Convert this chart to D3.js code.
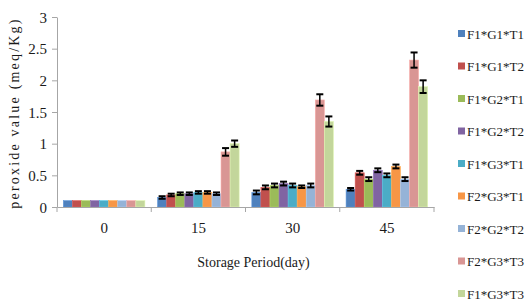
<!DOCTYPE html>
<html>
<head>
<meta charset="utf-8">
<script src="https://cdn.jsdelivr.net/npm/d3@7"></script>
<style>
  body { margin: 0; background: #fff; }
  text { font-family: "Liberation Serif", "Times New Roman", serif; fill: #1a1a1a; }
</style>
</head>
<body>
<div id="chart"></div>
<script>
var days = ["0", "15", "30", "45"]
var series = ["F1*G1*T1", "F1*G1*T2", "F1*G2*T1", "F1*G2*T2", "F1*G3*T1", "F2*G3*T1", "F2*G2*T2", "F2*G3*T3", "F1*G3*T3"]
var colors = ["#4F81BD", "#C0504D", "#9BBB59", "#8064A2", "#4BACC6", "#F79646", "#95B3D7", "#D99694", "#C3D69B"]

// values per day, one entry per series
var values = [
  [0.10, 0.10, 0.10, 0.10, 0.10, 0.10, 0.10, 0.10, 0.10],
  [0.15, 0.19, 0.21, 0.21, 0.23, 0.23, 0.21, 0.87, 1.00],
  [0.23, 0.31, 0.34, 0.37, 0.34, 0.32, 0.34, 1.69, 1.35],
  [0.28, 0.54, 0.44, 0.58, 0.50, 0.64, 0.44, 2.32, 1.90]
]
var errors = [
  [0, 0, 0, 0, 0, 0, 0, 0, 0],
  [0.02, 0.02, 0.02, 0.02, 0.02, 0.02, 0.02, 0.06, 0.05],
  [0.03, 0.03, 0.03, 0.03, 0.03, 0.02, 0.03, 0.09, 0.08],
  [0.02, 0.03, 0.03, 0.03, 0.03, 0.03, 0.03, 0.12, 0.10]
]
var yTicks = [0, 0.5, 1, 1.5, 2, 2.5, 3]

var width = 525, height = 305
var plotLeft = 57, plotRight = 434, plotTop = 17, plotBottom = 207

var svg = d3.select("#chart").append("svg")
  .attr("width", width)
  .attr("height", height)

var x0 = d3.scaleBand().domain(days).range([plotLeft, plotRight]).padding(0)
var x1 = d3.scaleBand().domain(series).range([0, x0.bandwidth()]).paddingInner(0).paddingOuter(0.7)
var y = d3.scaleLinear().domain([0, 3]).range([plotBottom, plotTop])

// y axis
var yAxis = svg.append("g")
  .attr("transform", "translate(" + plotLeft + ",0)")
  .call(d3.axisLeft(y).tickValues(yTicks).tickSize(5).tickSizeOuter(0).tickFormat(function(d) { return String(d) }))
yAxis.select(".domain").attr("stroke", "#a6a6a6")
yAxis.selectAll(".tick line").attr("stroke", "#a6a6a6")
yAxis.selectAll(".tick text").attr("font-size", 15).attr("x", -10).attr("dy", "0.35em")

// bars
var groups = svg.selectAll(".day")
  .data(days)
  .enter().append("g")
  .attr("class", "day")
  .attr("transform", function(d) { return "translate(" + x0(d) + ",0)" })

groups.each(function(day, di) {
  var g = d3.select(this)
  series.forEach(function(s, si) {
    var v = values[di][si]
    g.append("rect")
      .attr("x", x1(s))
      .attr("y", y(v))
      .attr("width", x1.bandwidth())
      .attr("height", y(0) - y(v))
      .attr("fill", colors[si])
      .attr("stroke", d3.color(colors[si]).brighter(0.4))
      .attr("stroke-width", 0.6)
    var e = errors[di][si]
    if (e > 0) {
      var cx = x1(s) + x1.bandwidth() / 2
      var cap = 3.5
      g.append("line")
        .attr("x1", cx).attr("x2", cx)
        .attr("y1", y(v + e)).attr("y2", y(v - e))
        .attr("stroke", "#000").attr("stroke-width", 1.5)
      ;[v + e, v - e].forEach(function(t) {
        g.append("line")
          .attr("x1", cx - cap).attr("x2", cx + cap)
          .attr("y1", y(t)).attr("y2", y(t))
          .attr("stroke", "#000").attr("stroke-width", 2)
      })
    }
  })
})

// x axis
var xAxis = svg.append("g")
  .attr("transform", "translate(0," + plotBottom + ")")
  .call(d3.axisBottom(x0).tickSize(0).tickSizeOuter(0))
xAxis.select(".domain").attr("stroke", "#a6a6a6")
xAxis.selectAll(".tick text").attr("font-size", 15).attr("dy", "1.55em")

var edges = days.map(function(d) { return x0(d) }).concat([plotRight])
svg.selectAll(".edge")
  .data(edges)
  .enter().append("line")
  .attr("class", "edge")
  .attr("x1", function(d) { return d }).attr("x2", function(d) { return d })
  .attr("y1", plotBottom).attr("y2", plotBottom + 5)
  .attr("stroke", "#a6a6a6")

// axis titles
svg.append("text")
  .attr("x", (plotLeft + plotRight) / 2 + 8)
  .attr("y", 267)
  .attr("text-anchor", "middle")
  .attr("font-size", 14)
  .text("Storage Period(day)")

svg.append("text")
  .attr("transform", "translate(19,113) rotate(-90)")
  .attr("text-anchor", "middle")
  .attr("font-size", 14)
  .attr("letter-spacing", 2.2)
  .text("peroxide value (meq/Kg)")

// legend
var legend = svg.selectAll(".legend")
  .data(series)
  .enter().append("g")
  .attr("class", "legend")
  .attr("transform", function(d, i) { return "translate(458," + (34 + i * 32.5) + ")" })

legend.append("rect")
  .attr("x", 0).attr("y", -4)
  .attr("width", 7).attr("height", 7)
  .attr("fill", function(d, i) { return colors[i] })

legend.append("text")
  .attr("x", 9)
  .attr("y", 0)
  .attr("dy", "0.35em")
  .attr("font-size", 13)
  .text(function(d) { return d })
</script>
</body>
</html>
